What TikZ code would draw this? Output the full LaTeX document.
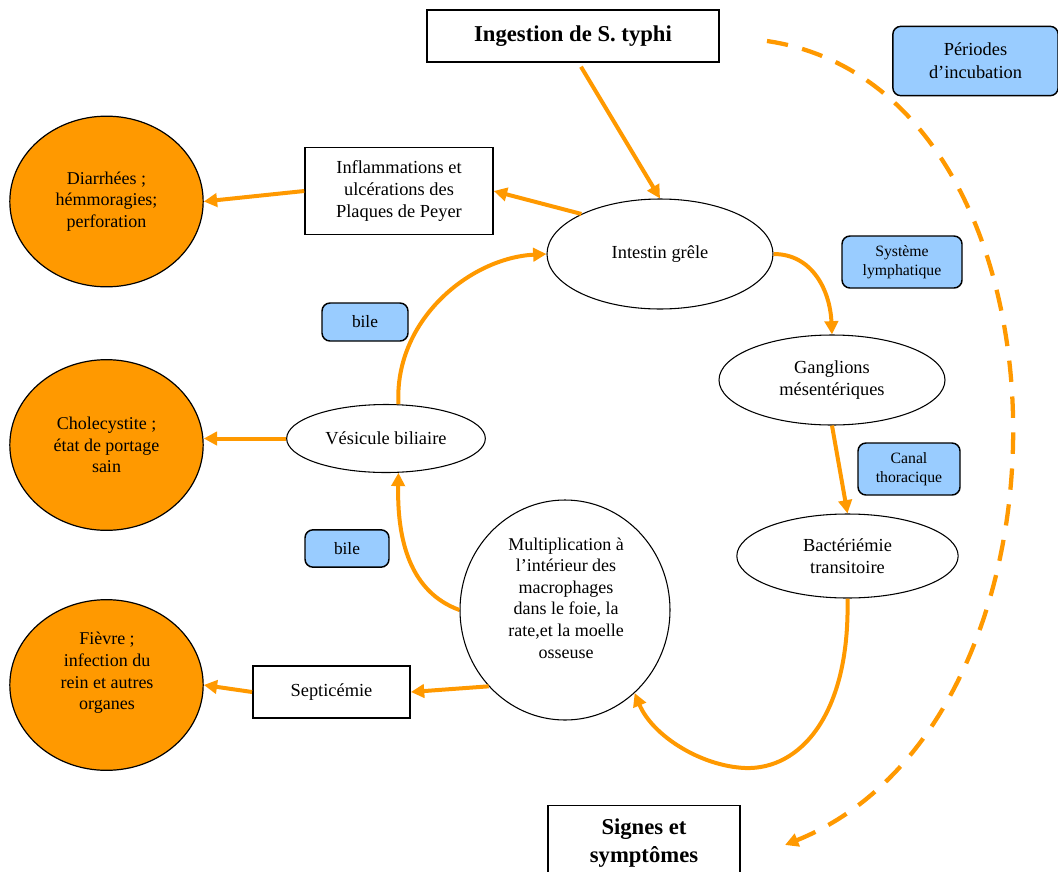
\documentclass[tikz,border=0pt]{standalone}
\usepackage{fontspec}
\setmainfont{Liberation Serif}
\usetikzlibrary{arrows.meta,shapes.geometric,calc}
\definecolor{orng}{HTML}{FF9900}
\definecolor{lblue}{HTML}{99CCFF}
\tikzset{
  box/.style={draw=black,line width=1.1pt,fill=white,align=center,inner sep=2pt,font=\fontsize{13.8}{16.5}\selectfont},
  ell/.style={ellipse,draw=black,line width=0.8pt,fill=white,align=center,inner sep=0pt,font=\fontsize{13.8}{16.5}\selectfont},
  orb/.style={ellipse,draw=black,line width=0.9pt,fill=orng,align=center,inner sep=0pt,minimum width=145pt,minimum height=128pt,font=\fontsize{13.5}{16}\selectfont},
  bluebox/.style={draw=black,line width=1.1pt,fill=lblue,rounded corners=6pt,align=center,inner sep=1pt,font=\fontsize{11.8}{14}\selectfont},
  txt/.style={align=center,inner sep=0pt,font=\fontsize{13.5}{16.2}\selectfont},
  arr/.style={draw=orng,line width=3pt,-{Triangle[length=10pt,width=10pt]}},
  darr/.style={draw=orng,line width=3.2pt,dash pattern=on 16pt off 11pt,-{Triangle[length=10pt,width=10pt]}}
}
\begin{document}
\begin{tikzpicture}[x=0.75pt,y=-0.75pt]
\useasboundingbox (0,0) rectangle (1058,872);
% boxes
\node[box,minimum width=219pt,minimum height=39pt,font=\bfseries\fontsize{17}{19}\selectfont] (ingest) at (573,36) {Ingestion de S. typhi};
\node[bluebox,minimum width=124pt,minimum height=52pt,font=\fontsize{13.8}{17}\selectfont] (periodes) at (975.5,61) {Périodes\\d’incubation};
\node[box,minimum width=141pt,minimum height=65pt] (inflam) at (399,191) {Inflammations et\\ulcérations des\\Plaques de Peyer};
\node[orb] (diarr) at (106.5,201.5) {Diarrhées ;\\hémmoragies;\\perforation};
\node[ell,minimum width=169.5pt,minimum height=82.5pt] (intestin) at (660,254) {Intestin grêle};
\node[bluebox,minimum width=90pt,minimum height=39pt] (lymph) at (902,262) {Système\\lymphatique};
\node[bluebox,minimum width=64.5pt,minimum height=28.5pt,font=\fontsize{13}{15}\selectfont] (bile1) at (365,322) {bile};
\node[ell,minimum width=169.5pt,minimum height=67.5pt] (gangl) at (832,380) {Ganglions\\mésentériques};
\node[orb] (chole) at (106.5,445) {Cholecystite ;\\état de portage\\sain};
\node[ell,minimum width=149pt,minimum height=51pt] (vesic) at (386,438.5) {Vésicule biliaire};
\node[bluebox,minimum width=76.5pt,minimum height=39pt] (canal) at (909,469) {Canal\\thoracique};
\node[ell,minimum width=166pt,minimum height=63pt] (bact) at (847.5,556) {Bactériémie\\transitoire};
\node[bluebox,minimum width=63pt,minimum height=28pt,font=\fontsize{13}{15}\selectfont] (bile2) at (347,548.5) {bile};
\node[ell,minimum width=157.5pt,minimum height=165pt] (multi) at (565,610) {};
\node[txt] (multitext) at (566,598) {Multiplication à\\l’intérieur des\\macrophages\\dans le foie, la\\rate,et la moelle\\osseuse};
\node[orb] (fievre) at (106.5,685) {};
\node[txt] (fievretext) at (107,673) {Fièvre ;\\infection du\\rein et autres\\organes};
\node[box,minimum width=118pt,minimum height=39pt] (septi) at (331.5,692) {Septicémie};
\node[box,minimum width=144pt,minimum height=56pt,font=\bfseries\fontsize{17}{20.5}\selectfont] (signes) at (644,843) {Signes et\\symptômes};
% arrows
\draw[arr] ($(ingest.south)+(8,4)$) -- (intestin.north);
\draw[arr] (intestin.153) -- (inflam.east);
\draw[arr] (inflam.west) -- (diarr.east);
\draw[arr] (intestin.east) .. controls (812,254) and (830,290) .. (gangl.north);
\draw[arr] (gangl.south) -- (bact.north);
\coordinate (bend) at (745,768);
\draw[arr] (bact.south) .. controls (850,715) and (800,770) .. (bend) .. controls (700,766) and (652,735) .. (multi.-50);
\draw[arr] (multi.west) .. controls (410,592) and (397,540) .. (vesic.-70);
\draw[arr] (vesic.70) .. controls (394,320) and (470,258) .. (intestin.west);
\draw[arr] (vesic.west) -- (vesic.west -| chole.east);
\draw[arr] (multi.225) -- (septi.east);
\draw[arr] (septi.west) -- (fievre.east);
% dashed arc
\coordinate (dstart) at (767,41);
\coordinate (dend) at (785,845);
\draw[darr] (dstart) .. controls (1085,88) and (1095,720) .. (dend);
\end{tikzpicture}
\end{document}
